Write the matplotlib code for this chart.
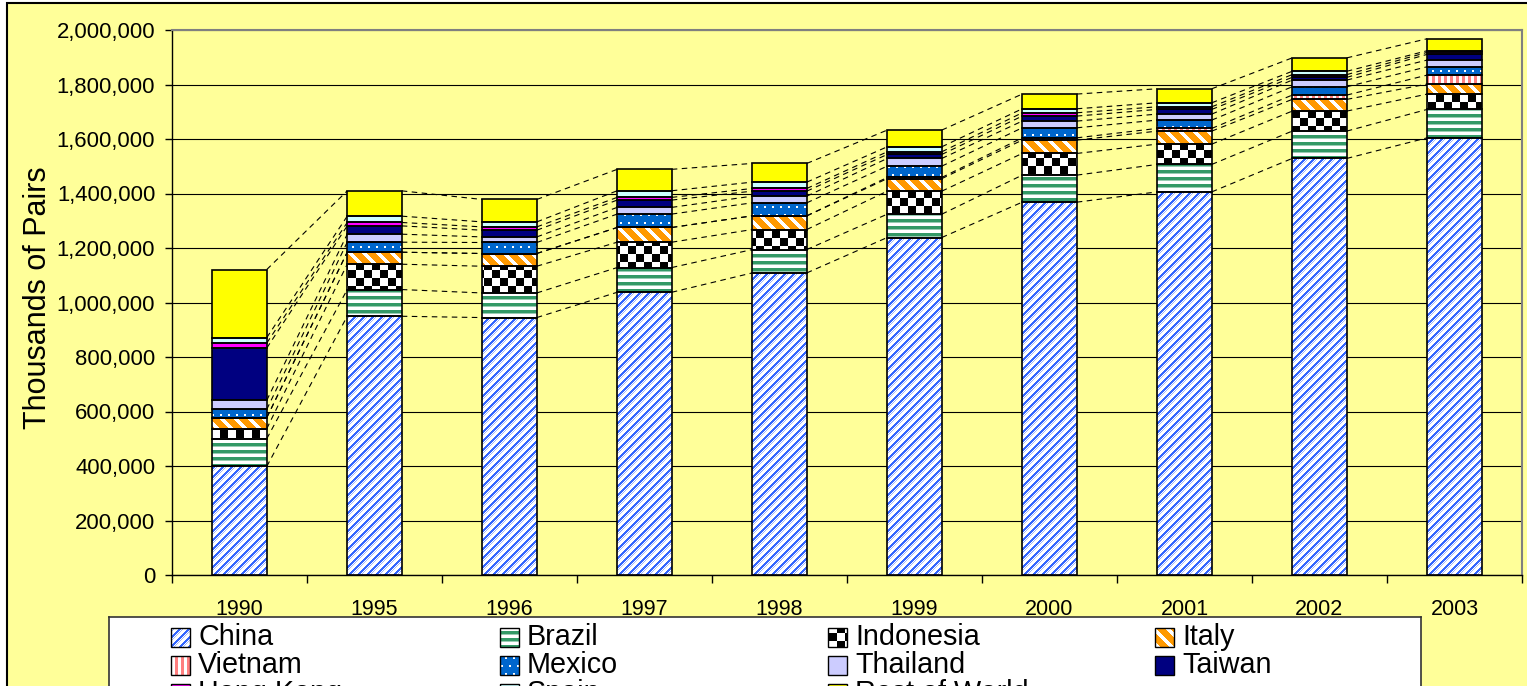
import numpy as np
import matplotlib.pyplot as plt
from matplotlib.patches import Rectangle
from matplotlib.path import Path
from matplotlib.colors import to_rgb

plt.rcParams['font.family'] = ['Liberation Sans', 'DejaVu Sans']

# Valeurs (milliers de paires)
annees = ['1990', '1995', '1996', '1997', '1998', '1999', '2000', '2001', '2002', '2003']
pays = ['China', 'Brazil', 'Indonesia', 'Italy', 'Vietnam', 'Mexico',
        'Thailand', 'Taiwan', 'Hong Kong', 'Spain', 'Rest of World']
china = [398500, 949500, 944700, 1037600, 1108600, 1238500, 1368200, 1406000, 1528700, 1604300]
brazil = [101800, 98000, 90300, 90700, 85700, 85600, 99200, 100700, 100300, 104300]
indonesia = [36700, 93000, 98100, 93000, 73500, 84500, 79600, 74500, 73400, 56300]
italy = [40400, 44000, 46700, 54000, 50200, 46000, 48900, 47800, 43000, 36700]
vietnam = [0, 0, 0, 0, 0, 4200, 8400, 9900, 15800, 33000]
mexico = [30500, 36800, 40400, 49200, 47800, 41600, 36800, 30500, 30500, 30600]
thailand = [33100, 29400, 20500, 24600, 24400, 28200, 24600, 22000, 24600, 24600]
taiwan = [192000, 30400, 24600, 26800, 18400, 14700, 18400, 17200, 9900, 20900]
hong_kong = [18400, 12500, 12200, 9900, 9800, 9800, 12100, 9600, 10100, 7300]
spain = [19800, 23200, 18300, 24300, 23300, 18300, 14700, 14700, 12200, 6000]
reste = [249800, 92900, 82300, 78600, 68600, 61300, 54000, 51400, 49200, 44000]

series = [china, brazil, indonesia, italy, vietnam, mexico,
          thailand, taiwan, hong_kong, spain, reste]

# motif (texture) ou couleur unie pour chaque pays
motifs = ['china', 'brazil', 'indonesia', 'italy', 'vietnam', 'mexico',
          '#CCCCFF', '#000080', '#FF00FF', '#CCFFFF', '#FFFF00']

JAUNE = '#FFFF99'


# Textures en pixels (rayures, damier, points)
def texture(kind, h, w):
    i, j = np.indices((h, w))
    img = np.ones((h, w, 3))
    if kind == 'china':
        img[(i + j) % 9 == 4] = to_rgb('#99B3FF')
        img[(i + j) % 9 < 3] = to_rgb('#3366FF')
    elif kind == 'brazil':
        img[i % 7 == 3] = to_rgb('#99CCB3')
        img[i % 7 < 3] = to_rgb('#339966')
    elif kind == 'indonesia':
        img[((i // 8) + (j // 8)) % 2 == 0] = 0
    elif kind == 'italy':
        img[(j - i) % 14 < 9] = to_rgb('#FF9900')
    elif kind == 'vietnam':
        img[j % 6 < 3] = to_rgb('#FF7F7F')
    elif kind == 'mexico':
        img[:] = to_rgb('#0066CC')
        dots = (i % 8 < 2) & ((j + 4 * ((i // 8) % 2)) % 8 < 2)
        img[dots] = 1
    return img


fig = plt.figure(figsize=(15.27, 6.86), dpi=100, facecolor='white')
W, H = 1527, 686

# cadre du graphique
fig.patches.append(Rectangle((7 / W, -0.1), 1.2, 1 - 3 / H + 0.1, transform=fig.transFigure,
                             facecolor=JAUNE, edgecolor='black', linewidth=1.5, zorder=-10))

ax = fig.add_axes([172 / W, 1 - 575 / H, 1350 / W, 545 / H])
ax.set_facecolor(JAUNE)

n = len(annees)
x = np.arange(n)
largeur = 0.404
ax.set_xlim(-0.5, n - 0.5)
ax.set_ylim(0, 2000000)

# Barres empilées
bas = np.zeros(n)
sommets = []
ph, pw = int(round(ax.bbox.height)), int(round(ax.bbox.width))
for vals, m in zip(series, motifs):
    vals = np.array(vals, dtype=float)
    if m.startswith('#'):
        ax.bar(x, vals, largeur, bottom=bas, color=m, linewidth=0, zorder=2)
    else:
        barres = ax.bar(x, vals, largeur, bottom=bas, color='white', linewidth=0, zorder=2)
        chemin = Path.make_compound_path(*[b.get_path().transformed(b.get_patch_transform())
                                           for b in barres])
        im = ax.imshow(texture(m, ph, pw), extent=(-0.5, n - 0.5, 0, 2000000),
                       aspect='auto', interpolation='nearest', zorder=2.5)
        im.set_clip_path(chemin, ax.transData)
    ax.bar(x, vals, largeur, bottom=bas, fill=False, edgecolor='black', linewidth=1.2, zorder=3)
    bas = bas + vals
    sommets.append(bas.copy())

ax.set_xlim(-0.5, n - 0.5)
ax.set_ylim(0, 2000000)

# Lignes de séries (pointillés entre les barres)
for s in sommets:
    xs, ys = [], []
    for k in range(n - 1):
        xs += [x[k] + largeur / 2, x[k + 1] - largeur / 2, np.nan]
        ys += [s[k], s[k + 1], np.nan]
    ax.plot(xs, ys, color='black', linewidth=0.8, linestyle=(0, (5, 4)), zorder=4)

# Axes et grille
ax.set_yticks(np.arange(0, 2000001, 200000))
ax.yaxis.set_major_formatter('{x:,.0f}')
ax.yaxis.grid(True, color='black', linewidth=0.8, zorder=0)
ax.set_axisbelow(True)
ax.tick_params(axis='y', direction='out', length=5, width=1, pad=7, labelsize=15.9)

ax.set_xticks(np.arange(-0.5, n, 1))
ax.set_xticklabels([])
ax.set_xticks(x, annees, minor=True)
ax.tick_params(axis='x', which='major', direction='out', length=6, width=1)
ax.tick_params(axis='x', which='minor', length=0, pad=17, labelsize=15.5)

for c in ['left', 'bottom']:
    ax.spines[c].set_color('black')
    ax.spines[c].set_linewidth(1)
for c in ['top', 'right']:
    ax.spines[c].set_color('#808080')
    ax.spines[c].set_linewidth(1.5)

fig.text(38 / W, 1 - 298 / H, 'Thousands of Pairs', rotation=90,
         ha='center', va='center', fontsize=22)

# Légende faite à la main (4 colonnes)
lw_, lh_ = 1312, 80
lax = fig.add_axes([109 / W, 1 - (616.7 + lh_) / H, lw_ / W, lh_ / H])
lax.set_xlim(0, lw_)
lax.set_ylim(lh_, 0)
lax.set_facecolor('white')
lax.set_xticks([])
lax.set_yticks([])
for sp in lax.spines.values():
    sp.set_color('#333333')
    sp.set_linewidth(1.2)

col_x = [62, 391, 719, 1046]
row_y = [20.3, 48.3, 76.3]
lh, lwpx = int(round(lax.bbox.height)), int(round(lax.bbox.width))
for k, (nom, m) in enumerate(zip(pays, motifs)):
    cx, cy = col_x[k % 4], row_y[k // 4]
    carre = Rectangle((cx, cy - 9.5), 19, 19, facecolor=m if m.startswith('#') else 'white',
                      edgecolor='none', zorder=2)
    lax.add_patch(carre)
    if not m.startswith('#'):
        im = lax.imshow(texture(m, lh, lwpx), extent=(0, lw_, lh_, 0), aspect='auto',
                        interpolation='nearest', zorder=2.5)
        im.set_clip_path(carre)
    lax.add_patch(Rectangle((cx, cy - 9.5), 19, 19, fill=False, edgecolor='black',
                            linewidth=1, zorder=3))
    lax.text(cx + 27, cy, nom, fontsize=20.7, va='center', ha='left')
lax.set_xlim(0, lw_)
lax.set_ylim(lh_, 0)

fig.savefig('out.png', dpi=100, facecolor=fig.get_facecolor())
